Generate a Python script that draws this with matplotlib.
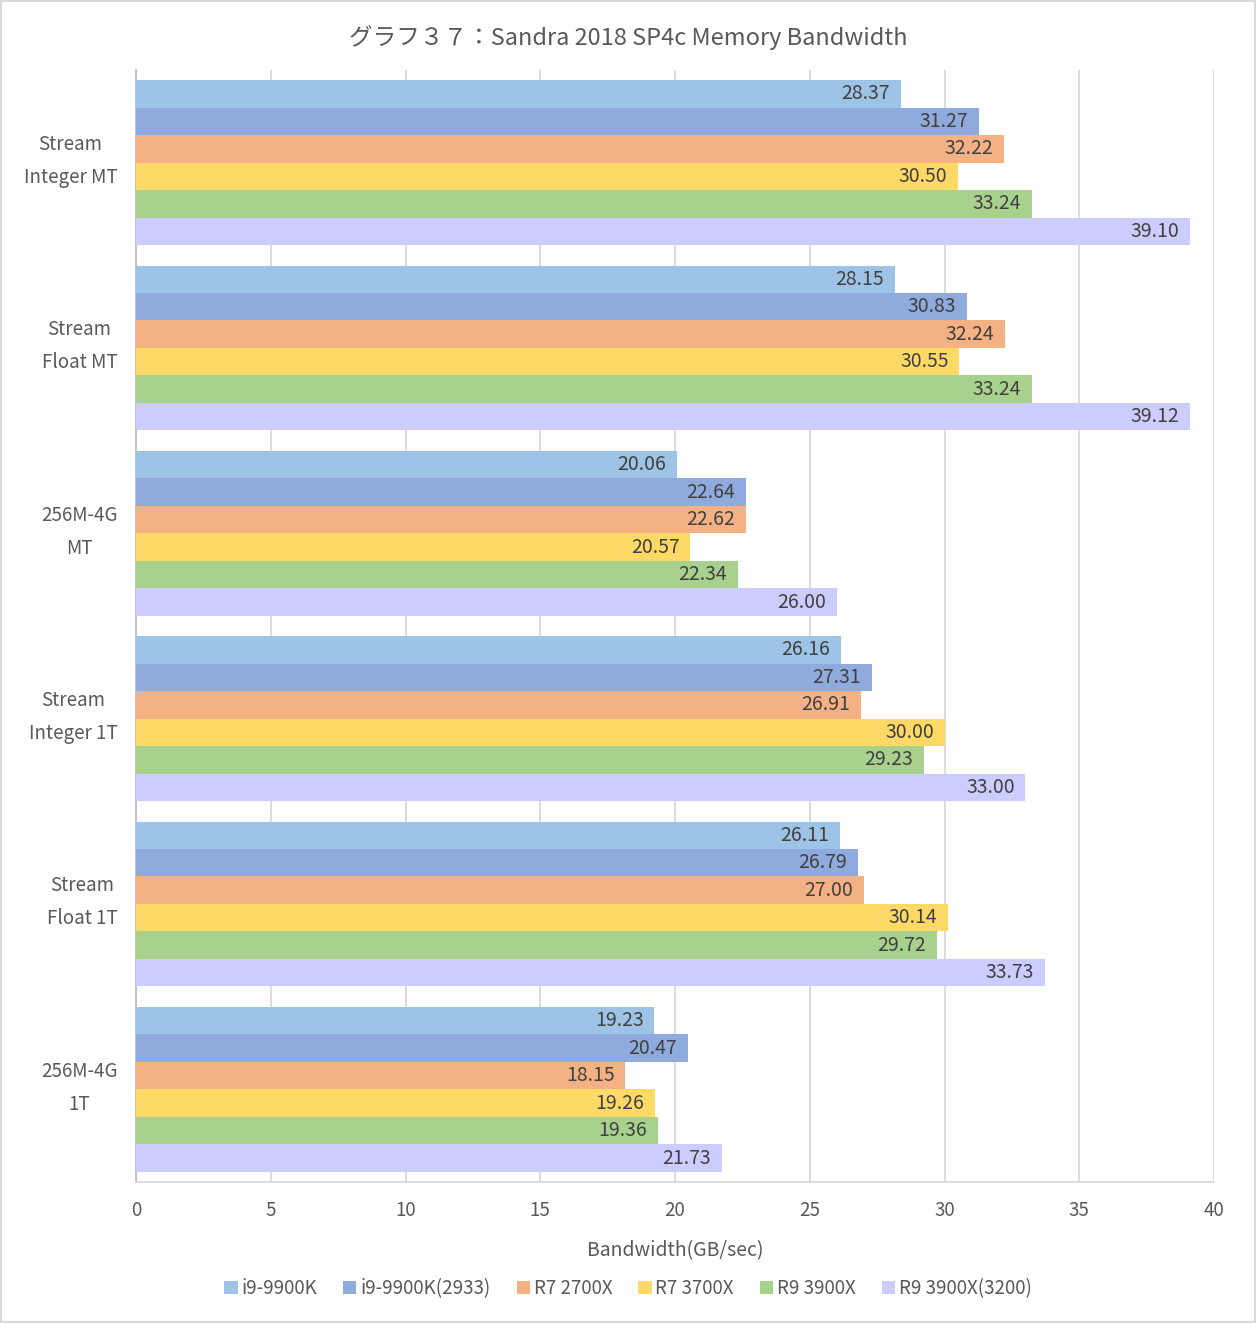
import matplotlib.pyplot as plt
import matplotlib.transforms as mtransforms
import numpy as np

plt.rcParams['font.family'] = ['Noto Sans CJK JP', 'DejaVu Sans']

categories = ['Stream\nInteger MT', 'Stream\nFloat MT', '256M-4G\nMT',
              'Stream\nInteger 1T', 'Stream\nFloat 1T', '256M-4G\n1T']
series = ['i9-9900K', 'i9-9900K(2933)', 'R7 2700X', 'R7 3700X', 'R9 3900X', 'R9 3900X(3200)']
values = [
    [28.37, 28.15, 20.06, 26.16, 26.11, 19.23],   # i9-9900K
    [31.27, 30.83, 22.64, 27.31, 26.79, 20.47],   # i9-9900K(2933)
    [32.22, 32.24, 22.62, 26.91, 27.00, 18.15],   # R7 2700X
    [30.50, 30.55, 20.57, 30.00, 30.14, 19.26],   # R7 3700X
    [33.24, 33.24, 22.34, 29.23, 29.72, 19.36],   # R9 3900X
    [39.10, 39.12, 26.00, 33.00, 33.73, 21.73],   # R9 3900X(3200)
]
colors = ['#9DC3E6', '#8FAADC', '#F4B183', '#FFD966', '#A9D18E', '#CCCCFF']

fig = plt.figure(figsize=(12.56, 13.23), dpi=100)
ax = fig.add_axes([0.1083, 0.1066, 0.8583, 0.8405])

y = np.arange(len(categories))
h = 0.89 / len(series)
for j, (name, vals, c) in enumerate(zip(series, values, colors)):
    pos = y + (j - (len(series) - 1) / 2) * h
    bars = ax.barh(pos, vals, height=h, color=c, label=name, zorder=3)
    for b, v in zip(bars, vals):
        ax.text(v - 0.4, b.get_y() + b.get_height() / 2, f'{v:.2f}',
                ha='right', va='center', fontsize=14, color='#404040', zorder=4)

ax.set_xlim(0, 40)
ax.set_ylim(len(categories) - 0.5, -0.5)
ax.set_xticks(np.arange(0, 41, 5))
ax.set_yticks(y)
ax.set_yticklabels(categories, multialignment='center', linespacing=1.75)
ax.tick_params(axis='both', length=0, labelsize=13.5, labelcolor='#595959')
ax.tick_params(axis='y', pad=17)
ax.tick_params(axis='x', pad=13)
shift = mtransforms.ScaledTranslation(0.05, 0.1, fig.dpi_scale_trans)
for lab in ax.get_yticklabels():
    lab.set_transform(lab.get_transform() + shift)
ax.grid(True, axis='x', color='#D9D9D9', linewidth=1.3, zorder=0)
for s in ['top', 'right']:
    ax.spines[s].set_visible(False)
ax.spines['left'].set_color('#BFBFBF')
ax.spines['left'].set_linewidth(1.3)
ax.spines['bottom'].set_color('#D9D9D9')
ax.spines['bottom'].set_linewidth(1.3)

ax.set_xlabel('Bandwidth(GB/sec)', fontsize=14, color='#595959', labelpad=14)
fig.suptitle('グラフ３７：Sandra 2018 SP4c Memory Bandwidth', fontsize=17,
             color='#595959', y=0.981)

leg = fig.legend(loc='center', bbox_to_anchor=(0.5, 0.026), ncol=6, frameon=False,
                 fontsize=13.5, handlelength=0.7, handleheight=0.7, handletextpad=0.2,
                 columnspacing=1.4, labelcolor='#595959')

fig.patches.append(plt.Rectangle((0.001, 0.001), 0.998, 0.998, transform=fig.transFigure,
                                 fill=False, edgecolor='#D9D9D9', linewidth=1.5))

fig.savefig('out.png', dpi=100)
